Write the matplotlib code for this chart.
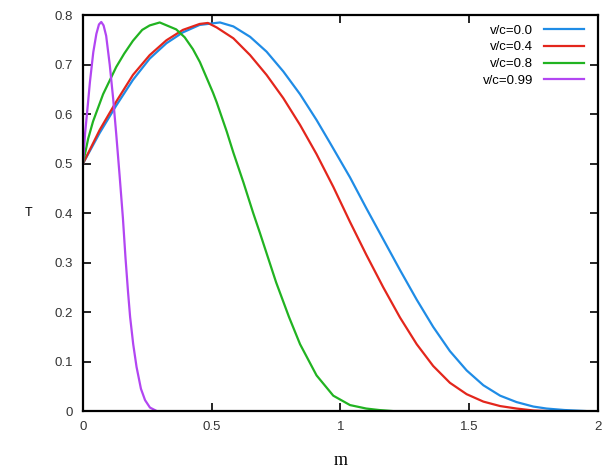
import matplotlib.pyplot as plt

# valores
m_v00 = [0, 0.065, 0.129, 0.194, 0.259, 0.324, 0.388, 0.453, 0.532, 0.584, 0.649, 0.713,
         0.778, 0.843, 0.907, 0.959, 1.037, 1.10, 1.166, 1.231, 1.296, 1.36, 1.425, 1.49,
         1.555, 1.62, 1.684, 1.749, 1.80, 1.87, 1.95]
T_v00 = [0.5, 0.562, 0.617, 0.669, 0.712, 0.743, 0.765, 0.780, 0.785, 0.777, 0.756, 0.726,
         0.686, 0.640, 0.588, 0.542, 0.472, 0.410, 0.347, 0.285, 0.225, 0.170, 0.121, 0.082,
         0.052, 0.031, 0.018, 0.009, 0.005, 0.002, 0.0]

m_v04 = [0, 0.065, 0.129, 0.194, 0.259, 0.324, 0.388, 0.453, 0.485, 0.519, 0.584, 0.649,
         0.713, 0.778, 0.843, 0.907, 0.972, 1.037, 1.10, 1.166, 1.231, 1.296, 1.36, 1.425,
         1.49, 1.555, 1.62, 1.684, 1.75, 1.80]
T_v04 = [0.5, 0.568, 0.625, 0.679, 0.719, 0.749, 0.770, 0.782, 0.784, 0.775, 0.753, 0.719,
         0.679, 0.632, 0.578, 0.519, 0.453, 0.382, 0.316, 0.250, 0.189, 0.135, 0.091, 0.057,
         0.034, 0.019, 0.010, 0.005, 0.001, 0.0]

m_v08 = [0, 0.02, 0.039, 0.078, 0.129, 0.16, 0.194, 0.23, 0.259, 0.298, 0.362, 0.395,
         0.427, 0.454, 0.505, 0.519, 0.558, 0.584, 0.623, 0.661, 0.687, 0.75, 0.80, 0.843,
         0.907, 0.972, 1.037, 1.10, 1.15, 1.20]
T_v08 = [0.5, 0.55, 0.585, 0.64, 0.695, 0.722, 0.748, 0.770, 0.779, 0.785, 0.771, 0.755,
         0.731, 0.705, 0.643, 0.624, 0.565, 0.522, 0.462, 0.40, 0.36, 0.26, 0.19, 0.135,
         0.072, 0.031, 0.012, 0.005, 0.002, 0.0]

m_v099 = [0, 0.008, 0.019, 0.027, 0.04, 0.052, 0.062, 0.071, 0.08, 0.09, 0.104, 0.117,
          0.129, 0.142, 0.155, 0.165, 0.175, 0.183, 0.195, 0.208, 0.225, 0.241, 0.26, 0.286]
T_v099 = [0.5, 0.56, 0.62, 0.665, 0.725, 0.762, 0.781, 0.786, 0.779, 0.758, 0.699, 0.632,
          0.56, 0.477, 0.39, 0.31, 0.24, 0.19, 0.135, 0.089, 0.045, 0.022, 0.007, 0.0]

series = [
    (m_v00, T_v00, 'v/c=0.0', '#1f8ce6'),
    (m_v04, T_v04, 'v/c=0.4', '#e3261c'),
    (m_v08, T_v08, 'v/c=0.8', '#21b321'),
    (m_v099, T_v099, 'v/c=0.99', '#b246f2'),
]

plt.rcParams['font.family'] = ['Liberation Sans', 'DejaVu Sans']

fig = plt.figure(figsize=(6.08, 4.70), dpi=100)
ax = fig.add_axes([0.1365, 0.1255, 0.847, 0.8425])

for m, T, etiqueta, color in series:
    ax.plot(m, T, color=color, lw=1.6, label=etiqueta, solid_joinstyle='round')

ax.set_xlim(0, 2)
ax.set_ylim(0, 0.8)
ax.set_xticks([0, 0.5, 1, 1.5, 2])
ax.set_xticklabels(['0', '0.5', '1', '1.5', '2'])
ax.set_yticks([0, 0.1, 0.2, 0.3, 0.4, 0.5, 0.6, 0.7, 0.8])
ax.set_yticklabels(['0', '0.1', '0.2', '0.3', '0.4', '0.5', '0.6', '0.7', '0.8'])
ax.tick_params(direction='in', length=6, width=1.2, top=True, right=True,
               labelsize=9.5, labelcolor='#333333', pad=7)
for s in ax.spines.values():
    s.set_linewidth(1.6)

ax.set_xlabel('m', fontfamily='Liberation Serif', fontsize=13, labelpad=14)
ax.set_ylabel('T', fontsize=9, labelpad=19, rotation=0, va='center')

ax.legend(loc='upper right', markerfirst=False, frameon=False, fontsize=9.5,
          handlelength=3.0, labelspacing=0.35, borderaxespad=0.3,
          bbox_to_anchor=(0.99, 1.0))

fig.savefig('out.png', dpi=100)
